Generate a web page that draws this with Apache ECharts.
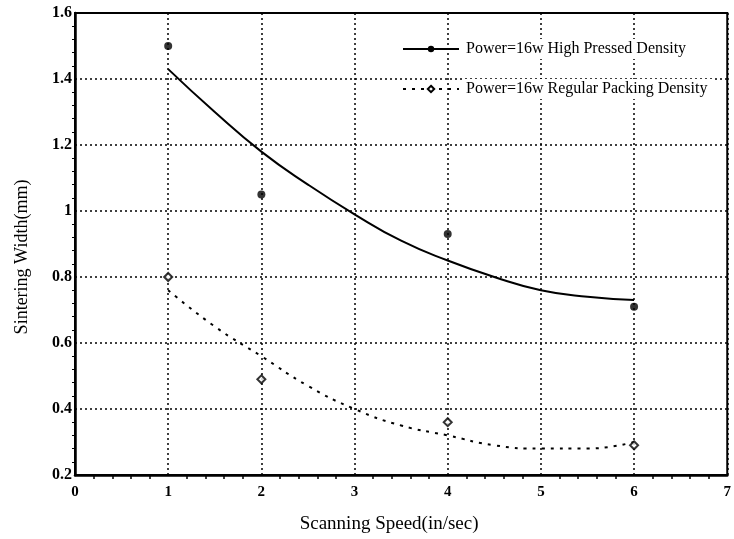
<!DOCTYPE html>
<html lang="en">
<head>
    <meta charset="UTF-8">
    <title>Sintering Width</title>
    <script src="https://cdn.jsdelivr.net/npm/echarts@6/dist/echarts.min.js"></script>
</head>
<body style="margin:0;background:#fff">
    <div id="main" style="width: 734px;height: 539px"></div>
    <script type="text/javascript">
        // measured points
        var speeds = [1, 2, 4, 6];
        var highDensity = [1.50, 1.05, 0.93, 0.71];
        var regularDensity = [0.80, 0.49, 0.36, 0.29];

        // trend curves
        var fitX = [1, 1.5, 2, 2.5, 3, 3.5, 4, 4.5, 5, 5.5, 6];
        var highFit = [1.43, 1.30, 1.18, 1.08, 0.99, 0.91, 0.85, 0.80, 0.76, 0.74, 0.73];
        var regularFit = [0.76, 0.65, 0.56, 0.47, 0.40, 0.35, 0.32, 0.29, 0.28, 0.28, 0.30];

        var nameHigh = 'Power=16w High Pressed Density';
        var nameRegular = 'Power=16w Regular Packing Density';

        function pairs(xs, ys) {
            return xs.map(function (x, i) { return [x, ys[i]]; });
        }

        var font = 'Liberation Serif';
        var gridLine = { color: '#000', type: [2, 3], width: 1.5 };
        var myChart = echarts.init(document.getElementById('main'));
        var option = {
            animation: false,
            textStyle: { fontFamily: font, color: '#000' },
            grid: {
                left: 75, right: 1, top: 13, bottom: 62,
                show: true, borderColor: '#000', borderWidth: 2
            },
            legend: {
                orient: 'vertical',
                left: 398,
                top: 35,
                itemGap: 20,
                itemWidth: 56,
                itemHeight: 8,
                padding: 4,
                textStyle: {
                    fontFamily: font, fontSize: 16, color: '#000',
                    backgroundColor: '#fff', padding: [2, 6, 2, 2]
                },
                data: [nameHigh, nameRegular]
            },
            xAxis: {
                type: 'value',
                min: 0, max: 7, interval: 1,
                name: 'Scanning Speed(in/sec)',
                nameLocation: 'middle',
                nameGap: 40,
                nameTextStyle: { fontFamily: font, fontSize: 19, color: '#000', padding: [0, 24, 0, 0] },
                axisLine: { onZero: false, lineStyle: { color: '#000', width: 2.5 } },
                axisTick: { show: false },
                minorTick: { show: true, splitNumber: 5, length: 4, lineStyle: { color: '#000', width: 1.5 } },
                axisLabel: { fontFamily: font, fontSize: 15, fontWeight: 'bold', color: '#000', margin: 10 },
                splitLine: { show: true, lineStyle: gridLine }
            },
            yAxis: {
                type: 'value',
                min: 0.2, max: 1.6, interval: 0.2,
                name: 'Sintering Width(mm)',
                nameLocation: 'middle',
                nameGap: 44,
                nameTextStyle: { fontFamily: font, fontSize: 18, color: '#000', padding: [0, 26, 0, 0] },
                axisLine: { show: true, onZero: false, lineStyle: { color: '#000', width: 2.5 } },
                axisTick: { show: false },
                minorTick: { show: true, splitNumber: 5, length: 3, lineStyle: { color: '#000', width: 1 } },
                axisLabel: { fontFamily: font, fontSize: 16, fontWeight: 'bold', color: '#000', margin: 3 },
                splitLine: { show: true, lineStyle: gridLine }
            },
            series: [
                {
                    name: nameHigh,
                    type: 'line',
                    smooth: true,
                    symbol: 'circle',
                    symbolSize: 8,
                    showSymbol: false,
                    itemStyle: { color: '#000' },
                    lineStyle: { color: '#000', width: 2 },
                    data: pairs(fitX, highFit),
                    z: 3
                },
                {
                    name: nameRegular,
                    type: 'line',
                    smooth: true,
                    symbol: 'emptyDiamond',
                    symbolSize: 7,
                    showSymbol: false,
                    itemStyle: { color: '#000', borderWidth: 1.5 },
                    lineStyle: { color: '#000', width: 2, type: [3, 6] },
                    data: pairs(fitX, regularFit),
                    z: 3
                },
                {
                    name: nameHigh,
                    type: 'scatter',
                    symbol: 'circle',
                    symbolSize: 8,
                    itemStyle: { color: '#000' },
                    data: pairs(speeds, highDensity),
                    z: 4
                },
                {
                    name: nameRegular,
                    type: 'scatter',
                    symbol: 'emptyDiamond',
                    symbolSize: 8,
                    itemStyle: { color: '#000', borderWidth: 1.5 },
                    data: pairs(speeds, regularDensity),
                    z: 4
                }
            ]
        };
        myChart.setOption(option);
    </script>
</body>
</html>
